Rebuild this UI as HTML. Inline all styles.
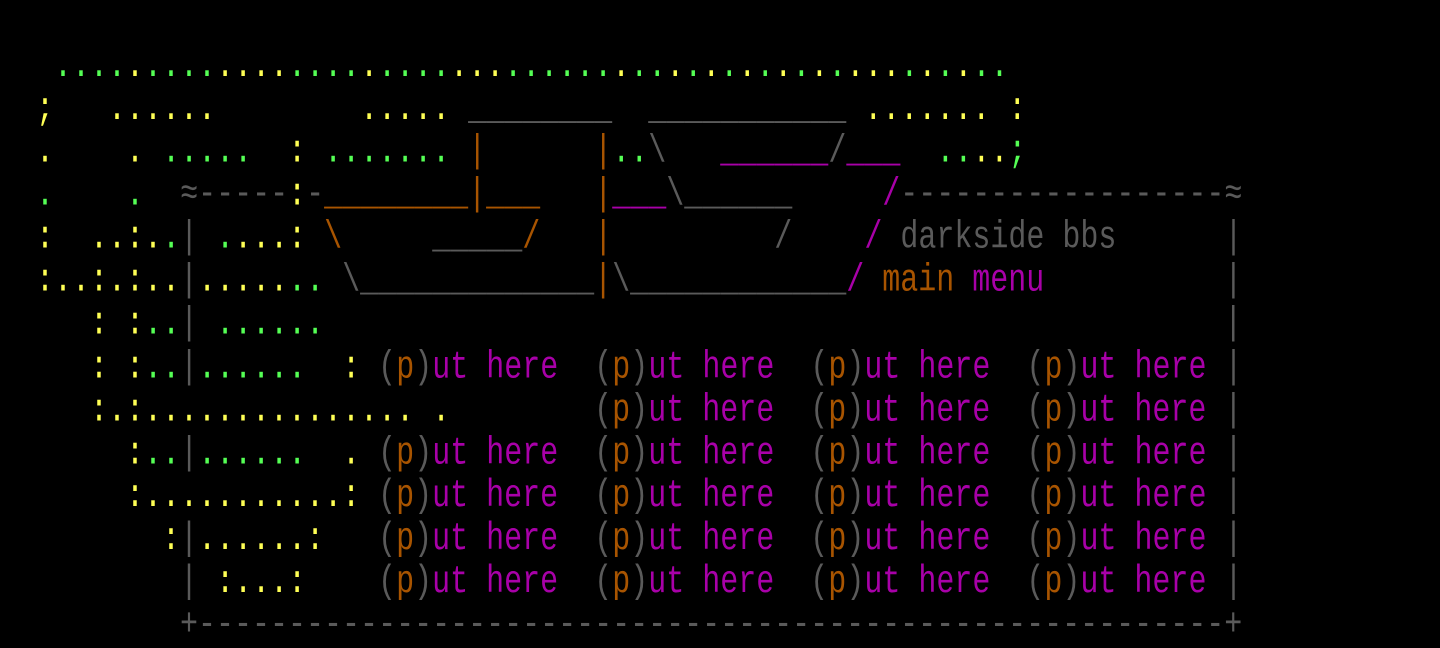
<!DOCTYPE html>
<html><head><meta charset="utf-8"><style>
html,body{margin:0;padding:0;background:#000;width:1440px;height:648px;overflow:hidden}
pre{position:absolute;left:0;top:46px;margin:0;font-family:"Liberation Mono",monospace;font-size:30px;line-height:33.077px;color:#555;transform:scaleY(1.3);transform-origin:0 0}
.y{color:#ffff55}.g{color:#55ff55}.d{color:#5a5a5a}.o{color:#a85400}.m{color:#a800a8}
</style></head><body>
<pre>   <span class="g">....</span><span class="y">.</span><span class="g">....</span><span class="y">....</span><span class="g">....</span><span class="y">.</span><span class="g">....</span><span class="y">...</span><span class="g">......</span><span class="y">.</span><span class="g">..</span><span class="y">.</span><span class="g">.</span><span class="y">.</span><span class="g">.</span><span class="y">.</span><span class="g">.</span><span class="y">.</span><span class="g">.</span><span class="y">.</span><span class="g">.</span><span class="y">...</span><span class="g">.</span><span class="y">.</span><span class="g">.</span><span class="y">.</span><span class="g">..</span>
  <span class="y">;</span>   <span class="y">......</span>        <span class="y">.....</span> <span class="d">________</span>  <span class="d">___________</span> <span class="y">.......</span> <span class="y">:</span>
  <span class="y">.</span>    <span class="y">.</span> <span class="g">.....</span>  <span class="y">:</span> <span class="g">.......</span> <span class="o">|</span>      <span class="o">|</span><span class="g">..</span><span class="d">\</span>   <span class="m">______</span><span class="d">/</span><span class="m">___</span>  <span class="g">..</span><span class="y">..</span><span class="g">;</span>
  <span class="g">.</span>    <span class="g">.</span>  <span class="d">≈-----</span><span class="y">:</span><span class="d">-</span><span class="o">________|___</span>   <span class="o">|</span><span class="m">___</span><span class="d">\______</span>     <span class="m">/</span><span class="d">------------------≈</span>
  <span class="y">:</span>  <span class="y">..:.</span><span class="g">.</span><span class="d">|</span> <span class="g">.</span><span class="y">...</span><span class="y">:</span> <span class="o">\</span>     <span class="d">_____</span><span class="o">/</span>   <span class="o">|</span>         <span class="d">/</span>    <span class="m">/</span> <span class="d">darkside bbs</span>      <span class="d">|</span>
  <span class="y">:..:.:..</span><span class="d">|</span><span class="y">.....</span><span class="g">..</span> <span class="d">\_____________</span><span class="o">|</span><span class="d">\____________</span><span class="m">/</span> <span class="o">main</span> <span class="m">menu</span>          <span class="d">|</span>
     <span class="y">:</span> <span class="y">:</span><span class="g">..</span><span class="d">|</span> <span class="g">......</span>                                                  <span class="d">|</span>
     <span class="y">:</span> <span class="y">:</span><span class="g">..</span><span class="d">|</span><span class="g">......</span>  <span class="y">:</span> <span class="d">(</span><span class="o">p</span><span class="d">)</span><span class="m">ut here</span>  <span class="d">(</span><span class="o">p</span><span class="d">)</span><span class="m">ut here</span>  <span class="d">(</span><span class="o">p</span><span class="d">)</span><span class="m">ut here</span>  <span class="d">(</span><span class="o">p</span><span class="d">)</span><span class="m">ut here</span> <span class="d">|</span>
     <span class="y">:.:...............</span> <span class="y">.</span>        <span class="d">(</span><span class="o">p</span><span class="d">)</span><span class="m">ut here</span>  <span class="d">(</span><span class="o">p</span><span class="d">)</span><span class="m">ut here</span>  <span class="d">(</span><span class="o">p</span><span class="d">)</span><span class="m">ut here</span> <span class="d">|</span>
       <span class="y">:</span><span class="g">..</span><span class="d">|</span><span class="g">......</span>  <span class="y">.</span> <span class="d">(</span><span class="o">p</span><span class="d">)</span><span class="m">ut here</span>  <span class="d">(</span><span class="o">p</span><span class="d">)</span><span class="m">ut here</span>  <span class="d">(</span><span class="o">p</span><span class="d">)</span><span class="m">ut here</span>  <span class="d">(</span><span class="o">p</span><span class="d">)</span><span class="m">ut here</span> <span class="d">|</span>
       <span class="y">:...........:</span> <span class="d">(</span><span class="o">p</span><span class="d">)</span><span class="m">ut here</span>  <span class="d">(</span><span class="o">p</span><span class="d">)</span><span class="m">ut here</span>  <span class="d">(</span><span class="o">p</span><span class="d">)</span><span class="m">ut here</span>  <span class="d">(</span><span class="o">p</span><span class="d">)</span><span class="m">ut here</span> <span class="d">|</span>
         <span class="y">:</span><span class="d">|</span><span class="y">......:</span>   <span class="d">(</span><span class="o">p</span><span class="d">)</span><span class="m">ut here</span>  <span class="d">(</span><span class="o">p</span><span class="d">)</span><span class="m">ut here</span>  <span class="d">(</span><span class="o">p</span><span class="d">)</span><span class="m">ut here</span>  <span class="d">(</span><span class="o">p</span><span class="d">)</span><span class="m">ut here</span> <span class="d">|</span>
          <span class="d">|</span> <span class="y">:...:</span>    <span class="d">(</span><span class="o">p</span><span class="d">)</span><span class="m">ut here</span>  <span class="d">(</span><span class="o">p</span><span class="d">)</span><span class="m">ut here</span>  <span class="d">(</span><span class="o">p</span><span class="d">)</span><span class="m">ut here</span>  <span class="d">(</span><span class="o">p</span><span class="d">)</span><span class="m">ut here</span> <span class="d">|</span>
          <span class="d">+---------------------------------------------------------+</span>
</pre>
</body></html>
